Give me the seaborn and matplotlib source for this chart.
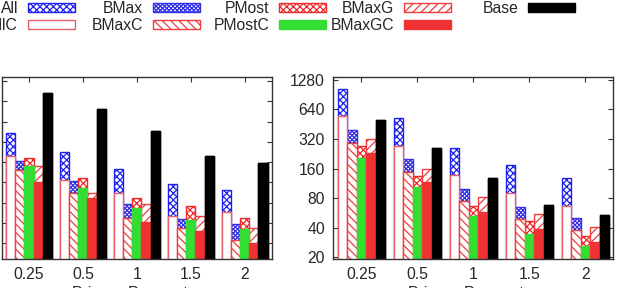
import matplotlib
matplotlib.use("Agg")
import matplotlib.pyplot as plt
from matplotlib.patches import Patch
from matplotlib.ticker import NullLocator
import pandas as pd
import seaborn as sns

# privacy parameter groups
groups = ["0.25", "0.5", "1", "1.5", "2"]

# left panel values (tick labels are outside the visible canvas)
l_all    = [44.0, 22.7, 12.5, 7.55, 6.15]
l_allc   = [19.6, 8.57, 5.50, 2.56, 2.91]
l_bmax   = [16.5, 8.28, 3.78, 2.27, 1.89]
l_bmaxc  = [12.2, 5.50, 2.37, 1.69, 1.12]
l_pmost  = [18.5, 9.27, 4.69, 3.57, 2.37]
l_pmostc = [13.9, 6.52, 3.37, 2.21, 1.63]
l_bmaxg  = [13.9, 5.61, 3.78, 2.56, 1.65]
l_bmaxgc = [8.17, 4.73, 2.09, 1.52, 1.02]
l_base   = [172, 99.8, 46.0, 19.4, 15.6]
l_ticks  = [1, 2, 4, 8, 16, 32, 64, 128, 256]

# right panel values
r_all    = [1045, 522, 261, 176, 129]
r_allc   = [543, 274, 138, 91, 66.8]
r_bmax   = [397, 201, 99, 65, 50]
r_bmaxc  = [292, 148, 74, 49, 37.6]
r_pmost  = [269, 134, 66, 46.5, 32.6]
r_pmostc = [205, 104, 53, 34.8, 26]
r_bmaxg  = [323, 160, 83, 55, 40.4]
r_bmaxgc = [230, 116, 57.5, 38.8, 28.8]
r_base   = [502, 261, 128, 67.4, 53.6]
r_ticks  = [20, 40, 80, 160, 320, 640, 1280]

back_names = ["All", "BMax", "PMost", "BMaxG", "Base"]
front_names = ["AllC", "BMaxC", "PMostC", "BMaxGC", "Base"]

styles = {
    "All":    dict(facecolor="white", edgecolor="#2020f0", hatch="xxxxx"),
    "AllC":   dict(facecolor="white", edgecolor="#e8606a", hatch=None),
    "BMax":   dict(facecolor="white", edgecolor="#3030e8", hatch="xxxxxxxx"),
    "BMaxC":  dict(facecolor="white", edgecolor="#f03c3c", hatch="\\\\\\\\"),
    "PMost":  dict(facecolor="white", edgecolor="#f02828", hatch="xxxxx"),
    "PMostC": dict(facecolor="#33dd33", edgecolor="#33dd33", hatch=None),
    "BMaxG":  dict(facecolor="white", edgecolor="#f03c3c", hatch="////"),
    "BMaxGC": dict(facecolor="#f03232", edgecolor="#f03232", hatch=None),
    "Base":   dict(facecolor="black", edgecolor="black", hatch=None),
}

FS = 11.3

sns.set_style("ticks")
plt.rcParams["font.family"] = ["Liberation Sans", "DejaVu Sans"]
plt.rcParams["hatch.linewidth"] = 0.9


def to_frame(names, cols):
    rows = []
    for slot, (name, vals) in enumerate(zip(names, cols)):
        for g, v in zip(groups, vals):
            rows.append((g, slot, v))
    return pd.DataFrame(rows, columns=["eps", "slot", "val"])


def panel(ax, back, front, ylim, ticks):
    # back layer (totals) first, then the overlaid front layer
    for names, cols in [(back_names, back), (front_names, front)]:
        df = to_frame(names, cols)
        n0 = len(ax.containers)
        sns.barplot(data=df, x="eps", y="val", hue="slot", order=groups,
                    hue_order=[0, 1, 2, 3, 4], width=0.85, gap=0,
                    legend=False, errorbar=None, ax=ax)
        for name, cont in zip(names, ax.containers[n0:]):
            st = styles[name]
            for p in cont.patches:
                p.set_facecolor(st["facecolor"])
                p.set_edgecolor(st["edgecolor"])
                p.set_hatch(st["hatch"])
                p.set_linewidth(1.0)
    ax.set_yscale("log", base=2)
    ax.set_ylim(*ylim)
    ax.set_yticks(ticks, labels=[str(t) for t in ticks])
    ax.yaxis.set_minor_locator(NullLocator())
    ax.set_xlim(-0.5, 4.5)
    ax.set_xlabel("Privacy Parameter", fontsize=FS, labelpad=3)
    ax.set_ylabel("")
    ax.tick_params(direction="in", top=True, right=True, length=3.5,
                   width=0.8, labelsize=FS, color="#333333")
    ax.tick_params(axis="x", pad=6)
    ax.tick_params(axis="y", pad=6)
    for s in ax.spines.values():
        s.set_linewidth(1.0)
        s.set_color("#333333")


fig = plt.figure(figsize=(6.18, 2.88), dpi=100)
ax1 = fig.add_axes([2 / 618, 1 - 258.5 / 288, 269.7 / 618, 182 / 288])
ax2 = fig.add_axes([333.3 / 618, 1 - 258.5 / 288, 280 / 618, 182 / 288])

panel(ax1,
      [l_all, l_bmax, l_pmost, l_bmaxg, l_base],
      [l_allc, l_bmaxc, l_pmostc, l_bmaxgc, l_base],
      (0.59, 300), l_ticks)
panel(ax2,
      [r_all, r_bmax, r_pmost, r_bmaxg, r_base],
      [r_allc, r_bmaxc, r_pmostc, r_bmaxgc, r_base],
      (19.4, 1388), r_ticks)

# legend: one column per series pair, right aligned like gnuplot's key
columns = [["All", "AllC"], ["BMax", "BMaxC"], ["PMost", "PMostC"],
           ["BMaxG", "BMaxGC"], ["Base"]]
col_right = [75, 200, 326, 451, 575]
for names, xr in zip(columns, col_right):
    handles = [Patch(facecolor=styles[n]["facecolor"],
                     edgecolor=styles[n]["edgecolor"],
                     hatch=styles[n]["hatch"], linewidth=1.0) for n in names]
    fig.legend(handles, names, loc="upper right",
               bbox_to_anchor=(xr / 618, 1 - 1 / 288), frameon=False,
               borderpad=0, borderaxespad=0, markerfirst=False,
               handlelength=3.0, handleheight=0.45, handletextpad=0.62,
               labelspacing=0.12, fontsize=FS)

fig.savefig("out.png", dpi=100)
